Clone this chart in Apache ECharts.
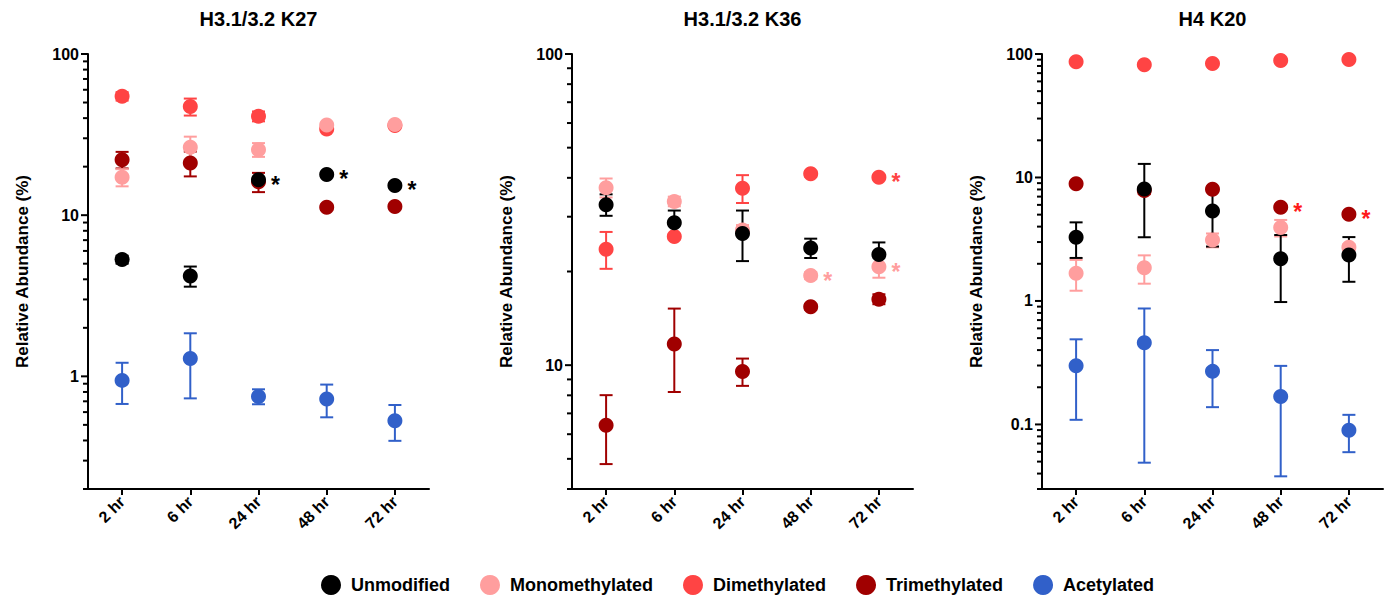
<!DOCTYPE html>
<html>
<head>
<meta charset="utf-8">
<script src="https://cdn.jsdelivr.net/npm/echarts@6/dist/echarts.min.js"></script>
<style>
html,body{margin:0;padding:0;background:#fff;}
#chart{width:1387px;height:596px;}
</style>
</head>
<body>
<div id="chart"></div>
<script>
// ---------- data ----------
const categories = ['2 hr', '6 hr', '24 hr', '48 hr', '72 hr'];
const groups = ['Unmodified', 'Monomethylated', 'Dimethylated', 'Trimethylated', 'Acetylated'];
const groupColors = ['#000000', '#ff9e9e', '#ff4444', '#a00000', '#3160c9'];
const panelTitles = ['H3.1/3.2 K27', 'H3.1/3.2 K36', 'H4 K20'];
const yAxisName = 'Relative Abundance (%)';

// H3.1/3.2 K27 (mean, SD)
const k27UnmodMean = [5.3, 4.2, 16.6, 17.9, 15.3];
const k27UnmodSD   = [0.3, 0.6, 0.6, 0.5, 0.5];
const k27MonoMean  = [17.2, 26.4, 25.5, 36.3, 36.5];
const k27MonoSD    = [2.1, 4.3, 2.5, 0.8, 0.8];
const k27DiMean    = [54.7, 47.2, 41.1, 34.3, 36.0];
const k27DiSD      = [3.3, 5.7, 2.9, 0.8, 0.8];
const k27TriMean   = [22.1, 21.1, 16.1, 11.2, 11.3];
const k27TriSD     = [2.6, 3.7, 2.2, 0.4, 0.3];
const k27AcMean    = [0.944, 1.29, 0.751, 0.723, 0.531];
const k27AcSD      = [0.27, 0.56, 0.08, 0.166, 0.133];

// H3.1/3.2 K36
const k36UnmodMean = [32.8, 28.7, 26.5, 23.8, 22.7];
const k36UnmodSD   = [2.6, 2.7, 4.9, 1.7, 2.1];
const k36MonoMean  = [37.2, 33.6, 27.2, 19.4, 20.7];
const k36MonoSD    = [2.6, 1.2, 1.0, 0.5, 1.6];
const k36DiMean    = [23.6, 25.9, 37.0, 41.2, 40.2];
const k36DiSD      = [3.2, 0.5, 3.8, 0.8, 0.6];
const k36TriMean   = [6.41, 11.7, 9.54, 15.4, 16.3];
const k36TriSD     = [1.6, 3.5, 0.96, 0.3, 0.6];
const k36AcMean    = [null, null, null, null, null]; // below the visible axis range
const k36AcSD      = [null, null, null, null, null];

// H4 K20
const k20UnmodMean = [3.28, 8.08, 5.36, 2.2, 2.36];
const k20UnmodSD   = [1.05, 4.8, 2.6, 1.22, 0.93];
const k20MonoMean  = [1.68, 1.86, 3.12, 3.93, 2.72];
const k20MonoSD    = [0.47, 0.48, 0.4, 0.6, 0.15];
const k20DiMean    = [86.5, 81.7, 83.7, 88.6, 90.2];
const k20DiSD      = [1.0, 2.0, 1.0, 1.0, 1.0];
const k20TriMean   = [8.88, 7.83, 8.04, 5.75, 5.03];
const k20TriSD     = [0.3, 0.5, 0.3, 0.2, 0.2];
const k20AcMean    = [0.299, 0.459, 0.269, 0.168, 0.0896];
const k20AcSD      = [0.19, 0.41, 0.131, 0.13, 0.03];

// significance asterisks: [category index, value]
const k27Stars = [[2, 16.6], [3, 17.9], [4, 15.3]];
const k27StarColors = ['#000000', '#000000', '#000000'];
const k36Stars = [[3, 19.4], [4, 20.7], [4, 40.2]];
const k36StarColors = ['#ff9e9e', '#ff9e9e', '#ff4444'];
const k20Stars = [[3, 5.75], [4, 5.03]];
const k20StarColors = ['#ff1a1a', '#ff1a1a'];

// axis ranges and tick values
const yMins = [0.2, 4, 0.03];
const yMax = 100;
const majorTicks = [0.1, 1, 10, 100];
const k27Ticks = [0.2,0.3,0.4,0.5,0.6,0.7,0.8,0.9,1,2,3,4,5,6,7,8,9,10,20,30,40,50,60,70,80,90,100];
const k36Ticks = [4,5,6,7,8,9,10,20,30,40,50,60,70,80,90,100];
const k20Ticks = [0.03,0.04,0.05,0.06,0.07,0.08,0.09,0.1,0.2,0.3,0.4,0.5,0.6,0.7,0.8,0.9,1,2,3,4,5,6,7,8,9,10,20,30,40,50,60,70,80,90,100];

// ---------- assembly ----------
const panelData = [
  [[k27UnmodMean,k27UnmodSD],[k27MonoMean,k27MonoSD],[k27DiMean,k27DiSD],[k27TriMean,k27TriSD],[k27AcMean,k27AcSD]],
  [[k36UnmodMean,k36UnmodSD],[k36MonoMean,k36MonoSD],[k36DiMean,k36DiSD],[k36TriMean,k36TriSD],[k36AcMean,k36AcSD]],
  [[k20UnmodMean,k20UnmodSD],[k20MonoMean,k20MonoSD],[k20DiMean,k20DiSD],[k20TriMean,k20TriSD],[k20AcMean,k20AcSD]]
];
const panelStars = [[k27Stars,k27StarColors],[k36Stars,k36StarColors],[k20Stars,k20StarColors]];
const panelTicks = [k27Ticks, k36Ticks, k20Ticks];

const FONT = '"Liberation Sans", Arial, Helvetica, sans-serif';
const gridLefts = [88, 572, 1042];
const gridW = 341, gridTop = 54, gridH = 435;

const grids = [], xAxes = [], yAxes = [], series = [], graphics = [];

function isMajor(v){ return majorTicks.some(m => Math.abs(m - v) < 1e-9); }

for (let p = 0; p < 3; p++) {
  grids.push({left: gridLefts[p], top: gridTop, width: gridW, height: gridH, containLabel: false});
  xAxes.push({
    type: 'category', gridIndex: p, data: categories, boundaryGap: true,
    axisLine: {show: true, lineStyle: {color: '#000', width: 2}},
    axisTick: {show: true, alignWithLabel: true, length: 6, lineStyle: {color: '#000', width: 2}},
    axisLabel: {rotate: 45, margin: 10, color: '#000', fontSize: 16, fontWeight: 'bold', fontFamily: FONT},
    splitLine: {show: false}
  });
  yAxes.push({
    type: 'log', logBase: 10, gridIndex: p, min: yMins[p], max: yMax,
    name: yAxisName, nameLocation: 'middle', nameGap: 57,
    nameTextStyle: {color: '#000', fontSize: 17, fontWeight: 'bold', fontFamily: FONT},
    axisLine: {show: true, lineStyle: {color: '#000', width: 2}},
    axisTick: {show: false},
    splitLine: {show: false},
    minorTick: {show: false},
    axisLabel: {
      margin: 9, color: '#000', fontSize: 16, fontWeight: 'bold', fontFamily: FONT,
      showMinLabel: false,
      formatter: function (v) {
        const e = Math.log10(v);
        if (Math.abs(e - Math.round(e)) > 1e-6) return '';
        return String(Number(Math.pow(10, Math.round(e)).toPrecision(6)));
      }
    }
  });
  graphics.push({
    type: 'text', x: gridLefts[p] + gridW / 2, y: 19,
    style: {text: panelTitles[p], fill: '#000', font: 'bold 20px ' + FONT, align: 'center', verticalAlign: 'middle',
            textAlign: 'center', textVerticalAlign: 'middle'}
  });

  // y-axis ticks (major + minor)
  series.push({
    type: 'custom', xAxisIndex: p, yAxisIndex: p, silent: true, clip: false, z: 5,
    data: panelTicks[p].map(v => [0, v]),
    renderItem: function (params, api) {
      const v = api.value(1);
      const y = api.coord([0, v])[1];
      const x0 = params.coordSys.x;
      const len = isMajor(v) ? 7 : 5;
      return {type: 'line', shape: {x1: x0 - len, y1: y, x2: x0, y2: y},
              style: {stroke: '#000', lineWidth: 2}};
    }
  });

  // draw order: Acetylated first, Unmodified last (on top)
  for (let g = 4; g >= 0; g--) {
    const mean = panelData[p][g][0], sd = panelData[p][g][1];
    const color = groupColors[g];
    const errData = [], ptData = [];
    for (let i = 0; i < categories.length; i++) {
      if (mean[i] == null) continue;
      errData.push([i, mean[i], sd[i]]);
      ptData.push([i, mean[i]]);
    }
    const ymin = yMins[p];
    series.push({
      name: groups[g], type: 'custom', xAxisIndex: p, yAxisIndex: p, silent: true,
      itemStyle: {color: color},
      data: errData,
      renderItem: function (params, api) {
        const i = api.value(0), m = api.value(1), s = api.value(2);
        const top = api.coord([i, m + s]);
        const lowVal = Math.max(m - s, ymin * 0.5);
        const bot = api.coord([i, lowVal]);
        const cs = params.coordSys;
        const yb = Math.min(bot[1], cs.y + cs.height);
        const x = top[0], hw = 6.5;
        const st = {stroke: color, lineWidth: 2};
        return {type: 'group', children: [
          {type: 'line', shape: {x1: x, y1: top[1], x2: x, y2: yb}, style: st},
          {type: 'line', shape: {x1: x - hw, y1: top[1], x2: x + hw, y2: top[1]}, style: st},
          {type: 'line', shape: {x1: x - hw, y1: yb, x2: x + hw, y2: yb}, style: st}
        ]};
      }
    });
    series.push({
      name: groups[g], type: 'scatter', xAxisIndex: p, yAxisIndex: p, silent: true,
      symbol: 'circle', symbolSize: 15,
      itemStyle: {color: color, opacity: 1},
      data: ptData
    });
  }

  // asterisks
  const stars = panelStars[p][0], starColors = panelStars[p][1];
  series.push({
    type: 'custom', xAxisIndex: p, yAxisIndex: p, silent: true, clip: false, z: 10,
    data: stars.map((s, k) => [s[0], s[1], k]),
    renderItem: function (params, api) {
      const pt = api.coord([api.value(0), api.value(1)]);
      const k = api.value(2);
      return {type: 'text', x: pt[0] + 17, y: pt[1] + 5,
              style: {text: '*', fill: starColors[k], font: 'bold 23px ' + FONT,
                      align: 'center', verticalAlign: 'middle', textAlign: 'center', textVerticalAlign: 'middle'}};
    }
  });
}

const chart = echarts.init(document.getElementById('chart'), null, {renderer: 'svg'});
chart.setOption({
  animation: false,
  backgroundColor: '#ffffff',
  textStyle: {fontFamily: FONT},
  grid: grids,
  xAxis: xAxes,
  yAxis: yAxes,
  graphic: graphics,
  legend: {
    left: 321, top: 575, padding: 0, itemWidth: 20, itemHeight: 20, itemGap: 30,
    selectedMode: false,
    textStyle: {color: '#000', fontSize: 18, fontWeight: 'bold', fontFamily: FONT, padding: [0, 0, 0, 5]},
    data: groups.map((g, i) => ({name: g, icon: 'circle', itemStyle: {color: groupColors[i]}}))
  },
  series: series
});
</script>
</body>
</html>
